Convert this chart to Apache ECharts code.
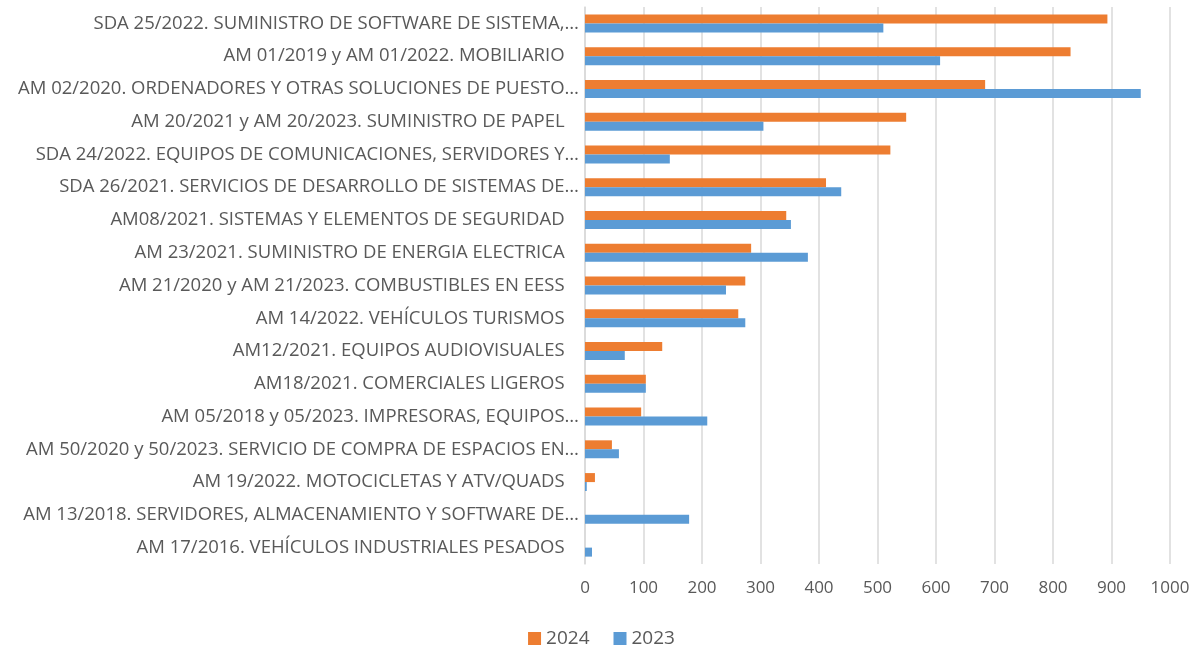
<!DOCTYPE html>
<html lang="es">
<head>
    <meta charset="UTF-8">
    <title>Acuerdos marco 2024 vs 2023</title>
    <script src="https://cdn.jsdelivr.net/npm/echarts@6/dist/echarts.min.js"></script>
    <style>
        body { margin: 0; padding: 0; background: #fff; }
        #chart { width: 1203px; height: 650px; }
    </style>
</head>
<body>
<div id="chart"></div>
<script>
    // categorias (de arriba a abajo)
    var categorias = [
        'SDA 25/2022. SUMINISTRO DE SOFTWARE DE SISTEMA,…',
        'AM 01/2019 y AM 01/2022. MOBILIARIO',
        'AM 02/2020. ORDENADORES Y OTRAS SOLUCIONES DE PUESTO…',
        'AM 20/2021 y AM 20/2023. SUMINISTRO DE PAPEL',
        'SDA 24/2022. EQUIPOS DE COMUNICACIONES, SERVIDORES Y…',
        'SDA 26/2021. SERVICIOS DE DESARROLLO DE SISTEMAS DE…',
        'AM08/2021. SISTEMAS Y ELEMENTOS DE SEGURIDAD',
        'AM 23/2021. SUMINISTRO DE ENERGIA ELECTRICA',
        'AM 21/2020 y AM 21/2023. COMBUSTIBLES EN EESS',
        'AM 14/2022. VEHÍCULOS TURISMOS',
        'AM12/2021. EQUIPOS AUDIOVISUALES',
        'AM18/2021. COMERCIALES LIGEROS',
        'AM 05/2018 y 05/2023. IMPRESORAS, EQUIPOS…',
        'AM 50/2020 y 50/2023. SERVICIO DE COMPRA DE ESPACIOS EN…',
        'AM 19/2022. MOTOCICLETAS Y ATV/QUADS',
        'AM 13/2018. SERVIDORES, ALMACENAMIENTO Y SOFTWARE DE…',
        'AM 17/2016. VEHÍCULOS INDUSTRIALES PESADOS'
    ];
    var valores2024 = [893, 830, 684, 549, 522, 412, 344, 284, 274, 262, 132, 104, 96, 46, 17, 0, 0];
    var valores2023 = [510, 607, 950, 305, 145, 438, 352, 381, 241, 274, 68, 104, 209, 58, 3, 178, 12];
    var ticksX = [0, 100, 200, 300, 400, 500, 600, 700, 800, 900, 1000];

    var chart = echarts.init(document.getElementById('chart'));

    var option = {
        textStyle: { fontFamily: 'Open Sans' },
        animation: false,
        legend: {
            data: ['2024', '2023'],
            top: 624,
            left: 'center',
            itemWidth: 13,
            itemHeight: 13,
            itemGap: 24,
            icon: 'rect',
            textStyle: { color: '#595959', fontSize: 19, fontFamily: 'Open Sans' }
        },
        grid: {
            left: 585,
            right: 33,
            top: 7,
            bottom: 86
        },
        xAxis: {
            type: 'value',
            min: ticksX[0],
            max: ticksX[ticksX.length - 1],
            interval: 100,
            axisLine: { show: false },
            axisTick: { show: false },
            axisLabel: {
                color: '#595959',
                fontSize: 17,
                margin: 16,
                formatter: function (v) { return String(v); }
            },
            splitLine: { lineStyle: { color: '#d9d9d9', width: 1.5 } }
        },
        yAxis: {
            type: 'category',
            inverse: true,
            data: categorias,
            axisLine: { show: true, lineStyle: { color: '#d9d9d9', width: 1.5 } },
            axisTick: { show: false },
            axisLabel: {
                color: '#595959',
                fontSize: 18.5,
                margin: 6,
                // las etiquetas completas quedan algo separadas del eje
                formatter: function (v) {
                    return v.slice(-1) === '…' ? v : v + '\u00a0\u00a0\u00a0';
                }
            }
        },
        series: [
            {
                name: '2024',
                type: 'bar',
                data: valores2024,
                barWidth: 9,
                barGap: '0%',
                itemStyle: { color: '#ed7d31' }
            },
            {
                name: '2023',
                type: 'bar',
                data: valores2023,
                barWidth: 9,
                barGap: '0%',
                itemStyle: { color: '#5b9bd5' }
            }
        ]
    };

    chart.setOption(option);
</script>
</body>
</html>
